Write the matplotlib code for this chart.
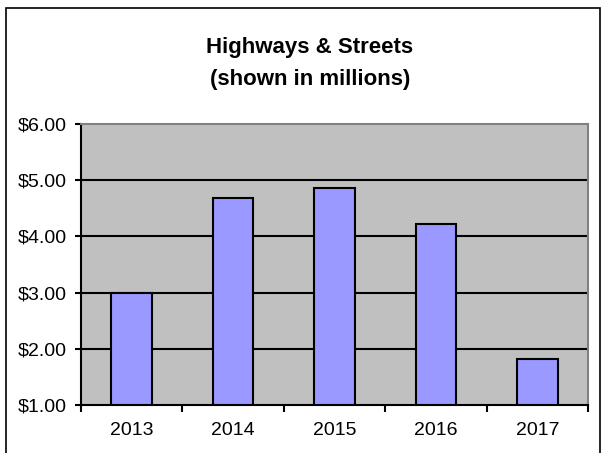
import numpy as np
import matplotlib
matplotlib.use('Agg')
import matplotlib.pyplot as plt
from matplotlib.patches import Rectangle

# values (millions of dollars)
years = ['2013', '2014', '2015', '2016', '2017']
amounts = [3.00, 4.69, 4.87, 4.22, 1.82]
y_ticks = [1, 2, 3, 4, 5, 6]

plt.rcParams['font.family'] = ['Liberation Sans', 'DejaVu Sans']

W, H = 605, 453
fig = plt.figure(figsize=(W / 100, H / 100), dpi=100)
fig.patch.set_facecolor('white')

# plot area in pixels: left 81, right 588, top 124, bottom 405
ax = fig.add_axes([81 / W, 1 - 405 / H, (588 - 81) / W, (405 - 124) / H])
ax.set_facecolor('#C0C0C0')

x = np.arange(len(years))
ax.bar(x, [a - 1 for a in amounts], bottom=1, width=0.4,
       color='#9999FF', edgecolor='black', linewidth=1.5, zorder=3)

ax.set_xlim(-0.5, len(years) - 0.5)
ax.set_ylim(1, 6)
ax.set_yticks(y_ticks)
ax.set_yticklabels([f'${v:.2f}' for v in y_ticks], fontsize=14)
ax.set_xticks(x)
ax.set_xticklabels(years, fontsize=14)
ax.tick_params(axis='x', length=0, pad=12)
ax.tick_params(axis='y', length=4, width=1.5, direction='out', pad=6)
# category boundary ticks on the x axis
ax.set_xticks(np.arange(-0.5, len(years), 1.0), minor=True)
ax.tick_params(axis='x', which='minor', length=5, width=1.5, direction='out')

for v in y_ticks[1:-1]:
    ax.axhline(v, color='black', linewidth=1.5, zorder=1)

ax.spines['left'].set_linewidth(1.5)
ax.spines['bottom'].set_linewidth(1.5)
ax.spines['top'].set_color('#808080')
ax.spines['right'].set_color('#808080')
ax.spines['top'].set_linewidth(1.5)
ax.spines['right'].set_linewidth(1.5)

fig.text(310 / W, 1 - 47 / H, 'Highways & Streets', ha='center', va='center',
         fontsize=16, fontweight='bold')
fig.text(310 / W, 1 - 80 / H, '(shown in millions)', ha='center', va='center',
         fontsize=16, fontweight='bold')

# outer chart frame (bottom edge falls outside the picture)
fig.patches.append(Rectangle((6 / W, -0.05), (600 - 6) / W, 1.05 - 8 / H,
                             transform=fig.transFigure, fill=False,
                             edgecolor='black', linewidth=1.2))

fig.savefig('out.png', dpi=100)
